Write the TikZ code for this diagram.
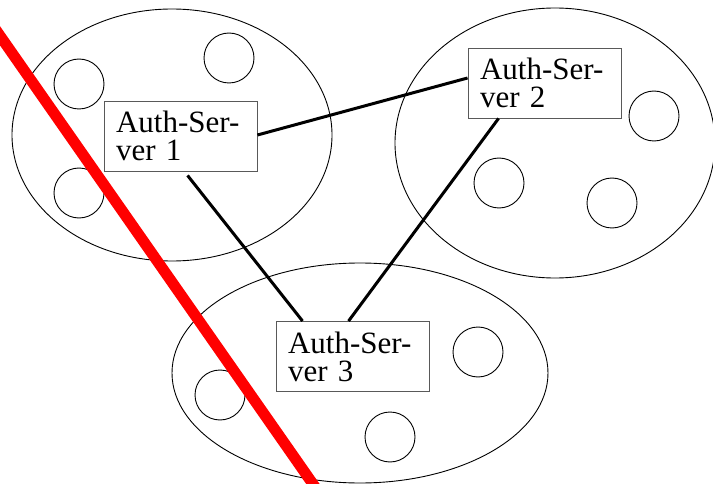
\documentclass[tikz,border=0pt]{standalone}
\usepackage{fontspec}
\setmainfont{Liberation Serif}
\usetikzlibrary{calc}
\begin{document}
\begin{tikzpicture}[x=1pt,y=-1pt,
  realmline/.style={draw=black,line width=0.9pt},
  hostline/.style={draw=black,line width=0.9pt},
  serverbox/.style={draw=black!65,line width=0.9pt,fill=white,
    minimum width=153pt,minimum height=70pt,text width=129pt,
    inner xsep=12pt,inner ysep=0pt,align=left,
    font=\fontsize{31}{28}\selectfont},
  link/.style={draw=black,line width=3pt},
  cutline/.style={draw=red,line width=11pt}]
  \useasboundingbox (0,0) rectangle (713,484);
  \clip (0,0) rectangle (713,484);

  % administrative realms
  \draw[realmline] (172,135) ellipse [x radius=160, y radius=126];
  \draw[realmline] (555,143) ellipse [x radius=160, y radius=135];
  \draw[realmline] (360,373) ellipse [x radius=188, y radius=110];

  % hosts inside the realms
  \foreach \p in {(79,84),(229,58),(79,193),
                  (654,116),(499,183),(612,203),
                  (478,352),(220,395),(390,437)}
    \draw[hostline] \p circle [radius=25];

  % authentication servers
  \node[serverbox] (b1) at (180.5,136) {Auth-Ser-\\ver 1};
  \node[serverbox] (b2) at (544.5,83) {Auth-Ser-\\ver 2};
  \node[serverbox] (b3) at (352.5,356.5) {Auth-Ser-\\ver 3};

  % trust links between the servers
  \coordinate (l12a) at ($(b1.east)+(0,-1)$);
  \coordinate (l12b) at ($(b2.west)+(0,-5)$);
  \coordinate (l13a) at ($(b1.south west)+(84,4)$);
  \coordinate (l13b) at ($(b3.north west)+(27,0)$);
  \coordinate (l23a) at ($(b2.south west)+(31,0)$);
  \coordinate (l23b) at ($(b3.north west)+(73,0)$);
  \draw[link] (l12a) -- (l12b);
  \draw[link] (l13a) -- (l13b);
  \draw[link] (l23a) -- (l23b);

  % severed connection
  \coordinate (cutA) at (-25,0);
  \coordinate (cutB) at (322,497);
  \draw[cutline] (cutA) -- (cutB);
\end{tikzpicture}
\end{document}
